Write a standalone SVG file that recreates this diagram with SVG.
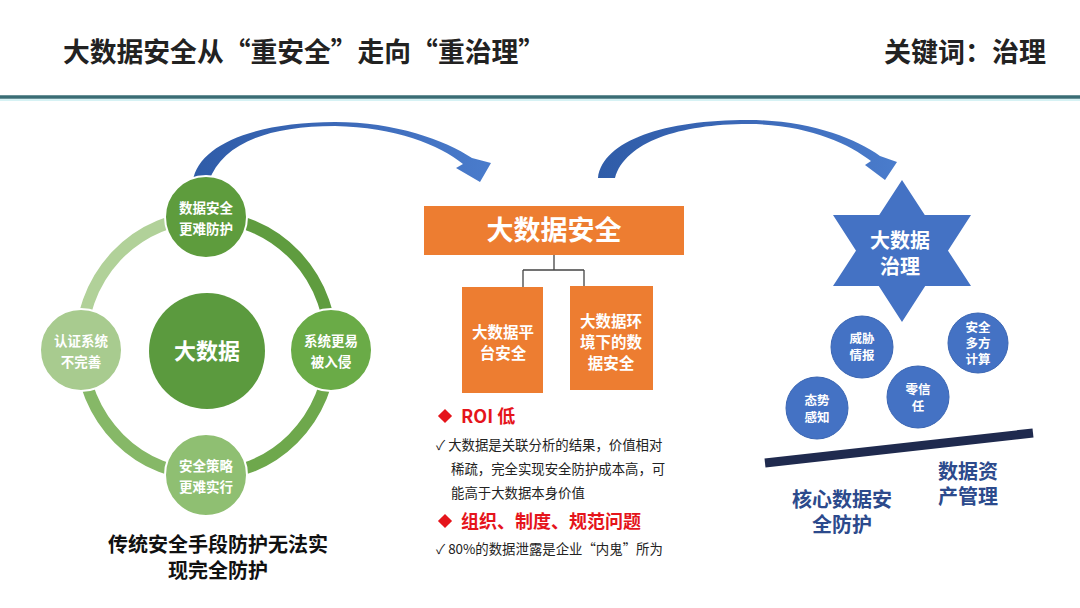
<svg xmlns="http://www.w3.org/2000/svg" width="1080" height="608" viewBox="0 0 1080 608">
<defs>
<linearGradient id="arrowGrad" x1="0" y1="0" x2="1" y2="0">
<stop offset="0" stop-color="#2f5ca8"/>
<stop offset="0.5" stop-color="#3c69b8"/>
<stop offset="1" stop-color="#4a7ccc"/>
</linearGradient>
<style>
text{font-family:"Noto Sans CJK SC","Noto Sans",sans-serif;}
.title{font-size:27px;font-weight:700;fill:#222;}
.wn{fill:#fff;font-weight:700;text-anchor:middle;}
.gnode{stroke:#fff;stroke-width:2;}
.ob{fill:#ed7d31;}
.red{fill:#e5141b;font-weight:700;font-size:18px;}
.chk{fill:#222;font-size:13.4px;}
.bc{fill:#4472c4;stroke:#3b66b3;stroke-width:1;}
.navy{fill:#2c4a8c;font-weight:700;font-size:20px;text-anchor:middle;}
.ring{fill:none;stroke-width:12;}
</style>
</defs>
<rect width="1080" height="608" fill="#fff"/>

<g id="header">
<text class="title" x="63" y="62" textLength="482" lengthAdjust="spacingAndGlyphs">大数据安全从“重安全”走向“重治理”</text>
<text class="title" x="884" y="62" textLength="162" lengthAdjust="spacingAndGlyphs">关键词：治理</text>
<line x1="0" y1="97" x2="1080" y2="97" stroke="#3a6d75" stroke-width="3.5"/>
<line x1="0" y1="100" x2="1080" y2="100" stroke="#c9eef0" stroke-width="1.5"/>
</g>

<g id="connectors">
<path d="M193,181 C198,145 255,122 335,122 C395,122 445,140 472,158 L491,163 L480,182 L456,168 L463,164 C440,145 395,127 335,126 C265,126 222,145 209,181 Z" fill="url(#arrowGrad)"/>
<path d="M598,178 C603,140 665,120 748,120 C808,120 855,138 880,156 L897,162 L885,180 L865,165 L871,161 C848,143 806,124 748,124 C680,124 625,142 615,178 Z" fill="url(#arrowGrad)"/>
<path d="M554,255 V270 M523,270 H584 M523,270 V287 M584,270 V287" fill="none" stroke="#444" stroke-width="1.3"/>
</g>

<g id="ring">
<path class="ring" d="M81,350 A125,129 0 0 1 206,217" stroke="#b1d199"/>
<path class="ring" d="M206,217 A125,129 0 0 1 331,350" stroke="#5f9c3f"/>
<path class="ring" d="M331,350 A125,129 0 0 1 206,475" stroke="#6ea84c"/>
<path class="ring" d="M206,475 A125,129 0 0 1 81,350" stroke="#86b867"/>
</g>

<g id="node-center">
<circle cx="207" cy="351" r="58" fill="#5b9a3e"/>
<text class="wn" x="207" y="359" font-size="22">大数据</text>
</g>
<g id="node-top">
<circle class="gnode" cx="206" cy="217" r="41" fill="#5e9c3d"/>
<text class="wn" x="206" y="213" font-size="13.5">数据安全</text>
<text class="wn" x="206" y="234" font-size="13.5">更难防护</text>
</g>
<g id="node-right">
<circle class="gnode" cx="331" cy="350" r="41" fill="#6aab47"/>
<text class="wn" x="331" y="346" font-size="13.5">系统更易</text>
<text class="wn" x="331" y="367" font-size="13.5">被入侵</text>
</g>
<g id="node-bottom">
<circle class="gnode" cx="206" cy="475" r="41" fill="#8fbf72"/>
<text class="wn" x="206" y="471" font-size="13.5">安全策略</text>
<text class="wn" x="206" y="492" font-size="13.5">更难实行</text>
</g>
<g id="node-left">
<circle class="gnode" cx="81" cy="350" r="41" fill="#a8cb8f"/>
<text class="wn" x="81" y="346" font-size="13.5">认证系统</text>
<text class="wn" x="81" y="367" font-size="13.5">不完善</text>
</g>
<g id="left-caption">
<text x="218" y="552" font-size="20" font-weight="700" fill="#111" text-anchor="middle">传统安全手段防护无法实</text>
<text x="218" y="578" font-size="20" font-weight="700" fill="#111" text-anchor="middle">现完全防护</text>
</g>

<g id="node-bigdata-security">
<rect class="ob" x="424" y="206" width="260" height="49"/>
<text class="wn" x="554" y="240" font-size="27">大数据安全</text>
</g>
<g id="node-platform">
<rect class="ob" x="462" y="287" width="81" height="106"/>
<text class="wn" x="503" y="338" font-size="15.5">大数据平</text>
<text class="wn" x="503" y="359" font-size="15.5">台安全</text>
</g>
<g id="node-env">
<rect class="ob" x="570" y="286" width="83" height="104"/>
<text class="wn" x="611" y="327" font-size="15.5">大数据环</text>
<text class="wn" x="611" y="348" font-size="15.5">境下的数</text>
<text class="wn" x="611" y="369" font-size="15.5">据安全</text>
</g>

<g id="bullets">
<rect x="440" y="411" width="10" height="10" fill="#e5141b" transform="rotate(45 445 416)"/>
<text class="red" x="461" y="423">ROI 低</text>
<text class="chk" x="436" y="450">✓ 大数据是关联分析的结果，价值相对</text>
<text class="chk" x="451" y="474">稀疏，完全实现安全防护成本高，可</text>
<text class="chk" x="451" y="498">能高于大数据本身价值</text>
<rect x="440" y="516" width="10" height="10" fill="#e5141b" transform="rotate(45 445 521)"/>
<text class="red" x="461" y="528">组织、制度、规范问题</text>
<text class="chk" x="436" y="554">✓ 80%的数据泄露是企业“内鬼”所为</text>
</g>

<g id="node-governance">
<path d="M902,180 L971,286 L833,286 Z M902,322 L833,215 L971,215 Z" fill="#4472c4"/>
<text class="wn" x="900" y="248" font-size="20">大数据</text>
<text class="wn" x="900" y="274" font-size="20">治理</text>
</g>
<g id="node-threat">
<circle class="bc" cx="862" cy="347" r="31"/>
<text class="wn" x="862" y="343" font-size="12.5">威胁</text>
<text class="wn" x="862" y="360" font-size="12.5">情报</text>
</g>
<g id="node-mpc">
<circle class="bc" cx="978" cy="343" r="30"/>
<text class="wn" x="978" y="332" font-size="12.5">安全</text>
<text class="wn" x="978" y="348" font-size="12.5">多方</text>
<text class="wn" x="978" y="364" font-size="12.5">计算</text>
</g>
<g id="node-zerotrust">
<circle class="bc" cx="918" cy="397" r="31"/>
<text class="wn" x="918" y="394" font-size="12.5">零信</text>
<text class="wn" x="918" y="411" font-size="12.5">任</text>
</g>
<g id="node-situation">
<circle class="bc" cx="817" cy="408" r="31"/>
<text class="wn" x="817" y="405" font-size="12.5">态势</text>
<text class="wn" x="817" y="422" font-size="12.5">感知</text>
</g>
<g id="base-line">
<line x1="765" y1="463" x2="1033" y2="433" stroke="#1f2a4e" stroke-width="9"/>
</g>
<g id="label-asset">
<text class="navy" x="968" y="479">数据资</text>
<text class="navy" x="968" y="504">产管理</text>
</g>
<g id="label-core">
<text class="navy" x="842" y="507">核心数据安</text>
<text class="navy" x="842" y="532">全防护</text>
</g>
</svg>
